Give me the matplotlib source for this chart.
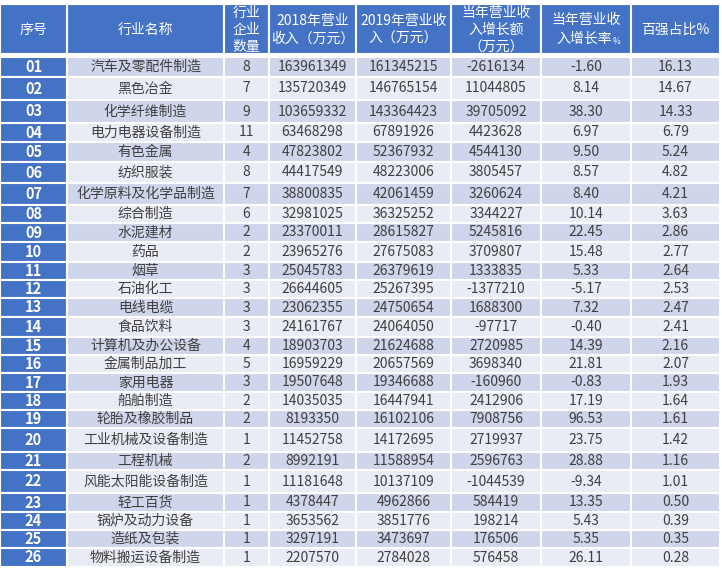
import matplotlib.pyplot as plt
from matplotlib.patches import Rectangle

plt.rcParams['font.family'] = ['Noto Sans CJK SC', 'DejaVu Sans']

# table data
seq = ["%02d" % i for i in range(1, 27)]
industry = ["汽车及零配件制造", "黑色冶金", "化学纤维制造", "电力电器设备制造", "有色金属",
            "纺织服装", "化学原料及化学品制造", "综合制造", "水泥建材", "药品", "烟草",
            "石油化工", "电线电缆", "食品饮料", "计算机及办公设备", "金属制品加工", "家用电器",
            "船舶制造", "轮胎及橡胶制品", "工业机械及设备制造", "工程机械", "风能太阳能设备制造",
            "轻工百货", "锅炉及动力设备", "造纸及包装", "物料搬运设备制造"]
firms = [8, 7, 9, 11, 4, 8, 7, 6, 2, 2, 3, 3, 3, 3, 4, 5, 3, 2, 2, 1, 2, 1, 1, 1, 1, 1]
rev_2018 = [163961349, 135720349, 103659332, 63468298, 47823802, 44417549, 38800835,
            32981025, 23370011, 23965276, 25045783, 26644605, 23062355, 24161767,
            18903703, 16959229, 19507648, 14035035, 8193350, 11452758, 8992191,
            11181648, 4378447, 3653562, 3297191, 2207570]
rev_2019 = [161345215, 146765154, 143364423, 67891926, 52367932, 48223006, 42061459,
            36325252, 28615827, 27675083, 26379619, 25267395, 24750654, 24064050,
            21624688, 20657569, 19346688, 16447941, 16102106, 14172695, 11588954,
            10137109, 4962866, 3851776, 3473697, 2784028]
growth_amt = [-2616134, 11044805, 39705092, 4423628, 4544130, 3805457, 3260624, 3344227,
              5245816, 3709807, 1333835, -1377210, 1688300, -97717, 2720985, 3698340,
              -160960, 2412906, 7908756, 2719937, 2596763, -1044539, 584419, 198214,
              176506, 576458]
growth_rate = ["-1.60", "8.14", "38.30", "6.97", "9.50", "8.57", "8.40", "10.14", "22.45",
               "15.48", "5.33", "-5.17", "7.32", "-0.40", "14.39", "21.81", "-0.83", "17.19",
               "96.53", "23.75", "28.88", "-9.34", "13.35", "5.43", "5.35", "26.11"]
share = ["16.13", "14.67", "14.33", "6.79", "5.24", "4.82", "4.21", "3.63", "2.86", "2.77",
         "2.64", "2.53", "2.47", "2.41", "2.16", "2.07", "1.93", "1.64", "1.61", "1.42",
         "1.16", "1.01", "0.50", "0.39", "0.35", "0.28"]
headers = ["序号", "行业名称", "行业\n企业\n数量", "2018年营业\n收入（万元）",
           "2019年营业收\n入（万元）", "当年营业收\n入增长额\n（万元）", None,
           "百强占比%"]

# layout in pixels
col_edges = [0, 67, 224, 269, 356, 451, 541, 631, 720]
row_edges = [57, 77, 100, 123, 142, 162, 183, 205, 223, 242, 262, 280, 298, 317, 337,
             355, 373, 392, 410, 428, 452, 470, 493, 512, 530, 548, 567]
head_top, head_bot = 4, 54

blue = "#4472C4"
dark_row = "#CFD5EA"
light_row = "#E9EBF5"
txt = "#404040"

fig = plt.figure(figsize=(7.22, 5.76), dpi=100)
ax = fig.add_axes([0, 0, 1, 1])
ax.set_xlim(0, 722)
ax.set_ylim(576, 0)
ax.axis("off")

# header
for c, h in enumerate(headers):
    x0, x1 = col_edges[c], col_edges[c + 1]
    cell = Rectangle((x0, head_top), x1 - x0, head_bot - head_top,
                     facecolor=blue, edgecolor="white", lw=1.5)
    ax.add_patch(cell)
    if h is None:
        continue
    t = ax.text((x0 + x1) / 2, (head_top + head_bot) / 2 + 1, h, ha="center",
                va="center", color="white", fontsize=10, linespacing=1.3)
    t.set_clip_path(cell)

# growth-rate header, with its small % sign
ax.text(586, 20, "当年营业收", ha="center", va="center", color="white", fontsize=10)
ax.text(612, 39, "入增长率", ha="right", va="center", color="white", fontsize=10)
ax.text(613, 42, "%", ha="left", va="center", color="white", fontsize=6)

for r in range(len(seq)):
    y0, y1 = row_edges[r], row_edges[r + 1]
    ym = (y0 + y1) / 2
    bg = dark_row if r % 2 == 0 else light_row
    vals = [seq[r], industry[r], str(firms[r]), str(rev_2018[r]), str(rev_2019[r]),
            str(growth_amt[r]), growth_rate[r], share[r]]
    for c, v in enumerate(vals):
        x0, x1 = col_edges[c], col_edges[c + 1]
        fc = blue if c == 0 else bg
        ax.add_patch(Rectangle((x0, y0), x1 - x0, y1 - y0, facecolor=fc,
                               edgecolor="white", lw=1.5))
        if c == 0:
            ax.text((x0 + x1) / 2, ym, v, ha="center", va="center", color="white",
                    fontsize=10.5, fontweight="bold")
        else:
            ax.text((x0 + x1) / 2, ym, v, ha="center", va="center", color=txt,
                    fontsize=10)

fig.savefig("out.png", dpi=100)
